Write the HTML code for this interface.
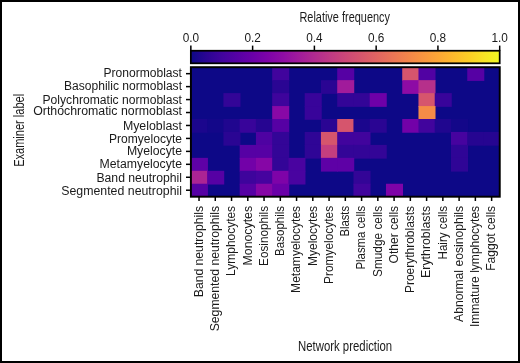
<!DOCTYPE html><html><head><meta charset="utf-8"><style>html,body{margin:0;padding:0;background:#fff;}svg{display:block;}</style></head><body>
<svg width="520" height="363" viewBox="0 0 520 363" style="will-change:transform">
<defs><linearGradient id="pl" x1="0" x2="1" y1="0" y2="0">
<stop offset="0.00" stop-color="#0d0887"/>
<stop offset="0.05" stop-color="#2a0593"/>
<stop offset="0.10" stop-color="#41049d"/>
<stop offset="0.15" stop-color="#5601a4"/>
<stop offset="0.20" stop-color="#6a00a8"/>
<stop offset="0.25" stop-color="#7e03a8"/>
<stop offset="0.30" stop-color="#8f0da4"/>
<stop offset="0.35" stop-color="#a11b9b"/>
<stop offset="0.40" stop-color="#b12a90"/>
<stop offset="0.45" stop-color="#bf3984"/>
<stop offset="0.50" stop-color="#cc4778"/>
<stop offset="0.55" stop-color="#d6556d"/>
<stop offset="0.60" stop-color="#e16462"/>
<stop offset="0.65" stop-color="#ea7457"/>
<stop offset="0.70" stop-color="#f2844b"/>
<stop offset="0.75" stop-color="#f89540"/>
<stop offset="0.80" stop-color="#fca636"/>
<stop offset="0.85" stop-color="#feba2c"/>
<stop offset="0.90" stop-color="#fcce25"/>
<stop offset="0.95" stop-color="#f7e425"/>
<stop offset="1.00" stop-color="#f0f921"/>
</linearGradient></defs>
<rect x="0" y="0" width="520" height="363" fill="#fff"/>
<rect x="190.90" y="67.20" width="308.84" height="129.50" fill="#0d0887"/>
<rect x="272.18" y="67.20" width="17.05" height="13.75" fill="#41049d"/>
<rect x="337.19" y="67.20" width="17.05" height="13.75" fill="#5601a4"/>
<rect x="402.22" y="67.20" width="17.05" height="13.75" fill="#d6556d"/>
<rect x="418.47" y="67.20" width="17.05" height="13.75" fill="#5102a3"/>
<rect x="467.24" y="67.20" width="17.05" height="13.75" fill="#5601a4"/>
<rect x="272.18" y="80.15" width="17.05" height="13.75" fill="#2a0593"/>
<rect x="320.94" y="80.15" width="17.05" height="13.75" fill="#2a0593"/>
<rect x="337.19" y="80.15" width="17.05" height="13.75" fill="#a11b9b"/>
<rect x="402.22" y="80.15" width="17.05" height="13.75" fill="#8d0ba5"/>
<rect x="418.47" y="80.15" width="17.05" height="13.75" fill="#b6308b"/>
<rect x="223.41" y="93.10" width="17.05" height="13.75" fill="#330597"/>
<rect x="272.18" y="93.10" width="17.05" height="13.75" fill="#3e049c"/>
<rect x="304.69" y="93.10" width="17.05" height="13.75" fill="#38049a"/>
<rect x="337.19" y="93.10" width="17.05" height="13.75" fill="#330597"/>
<rect x="353.45" y="93.10" width="17.05" height="13.75" fill="#330597"/>
<rect x="369.70" y="93.10" width="17.05" height="13.75" fill="#6e00a8"/>
<rect x="418.47" y="93.10" width="17.05" height="13.75" fill="#d6556d"/>
<rect x="434.73" y="93.10" width="17.05" height="13.75" fill="#38049a"/>
<rect x="272.18" y="106.05" width="17.05" height="13.75" fill="#8808a6"/>
<rect x="304.69" y="106.05" width="17.05" height="13.75" fill="#38049a"/>
<rect x="418.47" y="106.05" width="17.05" height="13.75" fill="#f58b47"/>
<rect x="190.90" y="119.00" width="17.05" height="13.75" fill="#1b068d"/>
<rect x="207.16" y="119.00" width="17.05" height="13.75" fill="#130789"/>
<rect x="223.41" y="119.00" width="17.05" height="13.75" fill="#20068f"/>
<rect x="239.67" y="119.00" width="17.05" height="13.75" fill="#38049a"/>
<rect x="255.92" y="119.00" width="17.05" height="13.75" fill="#260591"/>
<rect x="272.18" y="119.00" width="17.05" height="13.75" fill="#5601a4"/>
<rect x="320.94" y="119.00" width="17.05" height="13.75" fill="#2a0593"/>
<rect x="337.19" y="119.00" width="17.05" height="13.75" fill="#d6556d"/>
<rect x="353.45" y="119.00" width="17.05" height="13.75" fill="#1b068d"/>
<rect x="369.70" y="119.00" width="17.05" height="13.75" fill="#2a0593"/>
<rect x="402.22" y="119.00" width="17.05" height="13.75" fill="#7201a8"/>
<rect x="418.47" y="119.00" width="17.05" height="13.75" fill="#41049d"/>
<rect x="434.73" y="119.00" width="17.05" height="13.75" fill="#20068f"/>
<rect x="450.98" y="119.00" width="17.05" height="13.75" fill="#130789"/>
<rect x="223.41" y="131.95" width="17.05" height="13.75" fill="#2a0593"/>
<rect x="255.92" y="131.95" width="17.05" height="13.75" fill="#4e02a2"/>
<rect x="272.18" y="131.95" width="17.05" height="13.75" fill="#330597"/>
<rect x="304.69" y="131.95" width="17.05" height="13.75" fill="#2f0596"/>
<rect x="320.94" y="131.95" width="17.05" height="13.75" fill="#d6556d"/>
<rect x="337.19" y="131.95" width="17.05" height="13.75" fill="#41049d"/>
<rect x="353.45" y="131.95" width="17.05" height="13.75" fill="#41049d"/>
<rect x="450.98" y="131.95" width="17.05" height="13.75" fill="#46039f"/>
<rect x="467.24" y="131.95" width="17.05" height="13.75" fill="#260591"/>
<rect x="483.49" y="131.95" width="16.25" height="13.75" fill="#260591"/>
<rect x="239.67" y="144.90" width="17.05" height="13.75" fill="#5601a4"/>
<rect x="255.92" y="144.90" width="17.05" height="13.75" fill="#5601a4"/>
<rect x="272.18" y="144.90" width="17.05" height="13.75" fill="#330597"/>
<rect x="304.69" y="144.90" width="17.05" height="13.75" fill="#2f0596"/>
<rect x="320.94" y="144.90" width="17.05" height="13.75" fill="#c43e7f"/>
<rect x="337.19" y="144.90" width="17.05" height="13.75" fill="#330597"/>
<rect x="353.45" y="144.90" width="17.05" height="13.75" fill="#330597"/>
<rect x="369.70" y="144.90" width="17.05" height="13.75" fill="#330597"/>
<rect x="450.98" y="144.90" width="17.05" height="13.75" fill="#2f0596"/>
<rect x="190.90" y="157.85" width="17.05" height="13.75" fill="#5e01a6"/>
<rect x="239.67" y="157.85" width="17.05" height="13.75" fill="#7201a8"/>
<rect x="255.92" y="157.85" width="17.05" height="13.75" fill="#8606a6"/>
<rect x="272.18" y="157.85" width="17.05" height="13.75" fill="#330597"/>
<rect x="288.43" y="157.85" width="17.05" height="13.75" fill="#4903a0"/>
<rect x="320.94" y="157.85" width="17.05" height="13.75" fill="#5e01a6"/>
<rect x="337.19" y="157.85" width="17.05" height="13.75" fill="#5e01a6"/>
<rect x="450.98" y="157.85" width="17.05" height="13.75" fill="#2f0596"/>
<rect x="190.90" y="170.80" width="17.05" height="13.75" fill="#ab2494"/>
<rect x="207.16" y="170.80" width="17.05" height="13.75" fill="#5601a4"/>
<rect x="239.67" y="170.80" width="17.05" height="13.75" fill="#3e049c"/>
<rect x="255.92" y="170.80" width="17.05" height="13.75" fill="#46039f"/>
<rect x="272.18" y="170.80" width="17.05" height="13.75" fill="#7e03a8"/>
<rect x="288.43" y="170.80" width="17.05" height="13.75" fill="#4903a0"/>
<rect x="353.45" y="170.80" width="17.05" height="13.75" fill="#330597"/>
<rect x="190.90" y="183.75" width="17.05" height="12.95" fill="#5601a4"/>
<rect x="239.67" y="183.75" width="17.05" height="12.95" fill="#5601a4"/>
<rect x="255.92" y="183.75" width="17.05" height="12.95" fill="#8606a6"/>
<rect x="272.18" y="183.75" width="17.05" height="12.95" fill="#6a00a8"/>
<rect x="353.45" y="183.75" width="17.05" height="12.95" fill="#41049d"/>
<rect x="385.96" y="183.75" width="17.05" height="12.95" fill="#7e03a8"/>
<rect x="190.90" y="67.20" width="308.84" height="129.50" fill="none" stroke="#000" stroke-width="1.95"/>
<rect x="190.85" y="50.75" width="308.85" height="12.55" fill="url(#pl)" stroke="#000" stroke-width="1.75"/>
<line x1="190.85" y1="45.6" x2="190.85" y2="50.5" stroke="#000" stroke-width="1.5"/>
<text x="190.85" y="41.5" text-anchor="middle" font-size="12.3" fill="#1a1a1a" font-family="&apos;Liberation Sans&apos;, sans-serif" textLength="16.4" lengthAdjust="spacingAndGlyphs">0.0</text>
<line x1="252.62" y1="45.6" x2="252.62" y2="50.5" stroke="#000" stroke-width="1.5"/>
<text x="252.62" y="41.5" text-anchor="middle" font-size="12.3" fill="#1a1a1a" font-family="&apos;Liberation Sans&apos;, sans-serif" textLength="16.4" lengthAdjust="spacingAndGlyphs">0.2</text>
<line x1="314.39" y1="45.6" x2="314.39" y2="50.5" stroke="#000" stroke-width="1.5"/>
<text x="314.39" y="41.5" text-anchor="middle" font-size="12.3" fill="#1a1a1a" font-family="&apos;Liberation Sans&apos;, sans-serif" textLength="16.4" lengthAdjust="spacingAndGlyphs">0.4</text>
<line x1="376.16" y1="45.6" x2="376.16" y2="50.5" stroke="#000" stroke-width="1.5"/>
<text x="376.16" y="41.5" text-anchor="middle" font-size="12.3" fill="#1a1a1a" font-family="&apos;Liberation Sans&apos;, sans-serif" textLength="16.4" lengthAdjust="spacingAndGlyphs">0.6</text>
<line x1="437.93" y1="45.6" x2="437.93" y2="50.5" stroke="#000" stroke-width="1.5"/>
<text x="437.93" y="41.5" text-anchor="middle" font-size="12.3" fill="#1a1a1a" font-family="&apos;Liberation Sans&apos;, sans-serif" textLength="16.4" lengthAdjust="spacingAndGlyphs">0.8</text>
<line x1="499.70" y1="45.6" x2="499.70" y2="50.5" stroke="#000" stroke-width="1.5"/>
<text x="499.70" y="41.5" text-anchor="middle" font-size="12.3" fill="#1a1a1a" font-family="&apos;Liberation Sans&apos;, sans-serif" textLength="16.4" lengthAdjust="spacingAndGlyphs">1.0</text>
<text x="299.4" y="21.9" font-size="14.3" fill="#1a1a1a" font-family="&apos;Liberation Sans&apos;, sans-serif" textLength="90.6" lengthAdjust="spacingAndGlyphs">Relative frequency</text>
<line x1="186" y1="73.67" x2="191" y2="73.67" stroke="#000" stroke-width="1.5"/>
<text x="182" y="77.20" text-anchor="end" font-size="12.5" fill="#1a1a1a" font-family="&apos;Liberation Sans&apos;, sans-serif" textLength="78.6" lengthAdjust="spacingAndGlyphs">Pronormoblast</text>
<line x1="186" y1="86.62" x2="191" y2="86.62" stroke="#000" stroke-width="1.5"/>
<text x="182" y="89.80" text-anchor="end" font-size="12.5" fill="#1a1a1a" font-family="&apos;Liberation Sans&apos;, sans-serif" textLength="118.0" lengthAdjust="spacingAndGlyphs">Basophilic normoblast</text>
<line x1="186" y1="99.58" x2="191" y2="99.58" stroke="#000" stroke-width="1.5"/>
<text x="182" y="104.00" text-anchor="end" font-size="12.5" fill="#1a1a1a" font-family="&apos;Liberation Sans&apos;, sans-serif" textLength="139.5" lengthAdjust="spacingAndGlyphs">Polychromatic normoblast</text>
<line x1="186" y1="112.53" x2="191" y2="112.53" stroke="#000" stroke-width="1.5"/>
<text x="182" y="115.40" text-anchor="end" font-size="12.5" fill="#1a1a1a" font-family="&apos;Liberation Sans&apos;, sans-serif" textLength="148.8" lengthAdjust="spacingAndGlyphs">Orthochromatic normoblast</text>
<line x1="186" y1="125.47" x2="191" y2="125.47" stroke="#000" stroke-width="1.5"/>
<text x="182" y="130.00" text-anchor="end" font-size="12.5" fill="#1a1a1a" font-family="&apos;Liberation Sans&apos;, sans-serif" textLength="59.1" lengthAdjust="spacingAndGlyphs">Myeloblast</text>
<line x1="186" y1="138.43" x2="191" y2="138.43" stroke="#000" stroke-width="1.5"/>
<text x="182" y="142.50" text-anchor="end" font-size="12.5" fill="#1a1a1a" font-family="&apos;Liberation Sans&apos;, sans-serif" textLength="73.0" lengthAdjust="spacingAndGlyphs">Promyelocyte</text>
<line x1="186" y1="151.38" x2="191" y2="151.38" stroke="#000" stroke-width="1.5"/>
<text x="182" y="155.20" text-anchor="end" font-size="12.5" fill="#1a1a1a" font-family="&apos;Liberation Sans&apos;, sans-serif" textLength="55.1" lengthAdjust="spacingAndGlyphs">Myelocyte</text>
<line x1="186" y1="164.32" x2="191" y2="164.32" stroke="#000" stroke-width="1.5"/>
<text x="182" y="168.40" text-anchor="end" font-size="12.5" fill="#1a1a1a" font-family="&apos;Liberation Sans&apos;, sans-serif" textLength="82.4" lengthAdjust="spacingAndGlyphs">Metamyelocyte</text>
<line x1="186" y1="177.27" x2="191" y2="177.27" stroke="#000" stroke-width="1.5"/>
<text x="182" y="181.60" text-anchor="end" font-size="12.5" fill="#1a1a1a" font-family="&apos;Liberation Sans&apos;, sans-serif" textLength="85.6" lengthAdjust="spacingAndGlyphs">Band neutrophil</text>
<line x1="186" y1="190.22" x2="191" y2="190.22" stroke="#000" stroke-width="1.5"/>
<text x="182" y="194.60" text-anchor="end" font-size="12.5" fill="#1a1a1a" font-family="&apos;Liberation Sans&apos;, sans-serif" textLength="120.8" lengthAdjust="spacingAndGlyphs">Segmented neutrophil</text>
<line x1="199.03" y1="196" x2="199.03" y2="201" stroke="#000" stroke-width="1.5"/>
<text transform="translate(202.83,205.9) rotate(-90)" x="0" y="0" text-anchor="end" font-size="12.5" fill="#1a1a1a" font-family="&apos;Liberation Sans&apos;, sans-serif" textLength="91.3" lengthAdjust="spacingAndGlyphs">Band neutrophils</text>
<line x1="215.28" y1="196" x2="215.28" y2="201" stroke="#000" stroke-width="1.5"/>
<text transform="translate(219.08,205.9) rotate(-90)" x="0" y="0" text-anchor="end" font-size="12.5" fill="#1a1a1a" font-family="&apos;Liberation Sans&apos;, sans-serif" textLength="125.4" lengthAdjust="spacingAndGlyphs">Segmented neutrophils</text>
<line x1="231.54" y1="196" x2="231.54" y2="201" stroke="#000" stroke-width="1.5"/>
<text transform="translate(235.34,205.9) rotate(-90)" x="0" y="0" text-anchor="end" font-size="12.5" fill="#1a1a1a" font-family="&apos;Liberation Sans&apos;, sans-serif" textLength="70.0" lengthAdjust="spacingAndGlyphs">Lymphocytes</text>
<line x1="247.79" y1="196" x2="247.79" y2="201" stroke="#000" stroke-width="1.5"/>
<text transform="translate(251.59,205.9) rotate(-90)" x="0" y="0" text-anchor="end" font-size="12.5" fill="#1a1a1a" font-family="&apos;Liberation Sans&apos;, sans-serif" textLength="59.6" lengthAdjust="spacingAndGlyphs">Monocytes</text>
<line x1="264.05" y1="196" x2="264.05" y2="201" stroke="#000" stroke-width="1.5"/>
<text transform="translate(267.85,205.9) rotate(-90)" x="0" y="0" text-anchor="end" font-size="12.5" fill="#1a1a1a" font-family="&apos;Liberation Sans&apos;, sans-serif" textLength="60.0" lengthAdjust="spacingAndGlyphs">Eosinophils</text>
<line x1="280.30" y1="196" x2="280.30" y2="201" stroke="#000" stroke-width="1.5"/>
<text transform="translate(284.10,205.9) rotate(-90)" x="0" y="0" text-anchor="end" font-size="12.5" fill="#1a1a1a" font-family="&apos;Liberation Sans&apos;, sans-serif" textLength="50.0" lengthAdjust="spacingAndGlyphs">Basophils</text>
<line x1="296.56" y1="196" x2="296.56" y2="201" stroke="#000" stroke-width="1.5"/>
<text transform="translate(300.36,205.9) rotate(-90)" x="0" y="0" text-anchor="end" font-size="12.5" fill="#1a1a1a" font-family="&apos;Liberation Sans&apos;, sans-serif" textLength="87.0" lengthAdjust="spacingAndGlyphs">Metamyelocytes</text>
<line x1="312.81" y1="196" x2="312.81" y2="201" stroke="#000" stroke-width="1.5"/>
<text transform="translate(316.61,205.9) rotate(-90)" x="0" y="0" text-anchor="end" font-size="12.5" fill="#1a1a1a" font-family="&apos;Liberation Sans&apos;, sans-serif" textLength="60.2" lengthAdjust="spacingAndGlyphs">Myelocytes</text>
<line x1="329.07" y1="196" x2="329.07" y2="201" stroke="#000" stroke-width="1.5"/>
<text transform="translate(332.87,205.9) rotate(-90)" x="0" y="0" text-anchor="end" font-size="12.5" fill="#1a1a1a" font-family="&apos;Liberation Sans&apos;, sans-serif" textLength="78.0" lengthAdjust="spacingAndGlyphs">Promyelocytes</text>
<line x1="345.32" y1="196" x2="345.32" y2="201" stroke="#000" stroke-width="1.5"/>
<text transform="translate(349.12,205.9) rotate(-90)" x="0" y="0" text-anchor="end" font-size="12.5" fill="#1a1a1a" font-family="&apos;Liberation Sans&apos;, sans-serif" textLength="30.7" lengthAdjust="spacingAndGlyphs">Blasts</text>
<line x1="361.58" y1="196" x2="361.58" y2="201" stroke="#000" stroke-width="1.5"/>
<text transform="translate(365.38,205.9) rotate(-90)" x="0" y="0" text-anchor="end" font-size="12.5" fill="#1a1a1a" font-family="&apos;Liberation Sans&apos;, sans-serif" textLength="63.6" lengthAdjust="spacingAndGlyphs">Plasma cells</text>
<line x1="377.83" y1="196" x2="377.83" y2="201" stroke="#000" stroke-width="1.5"/>
<text transform="translate(381.63,205.9) rotate(-90)" x="0" y="0" text-anchor="end" font-size="12.5" fill="#1a1a1a" font-family="&apos;Liberation Sans&apos;, sans-serif" textLength="71.1" lengthAdjust="spacingAndGlyphs">Smudge cells</text>
<line x1="394.09" y1="196" x2="394.09" y2="201" stroke="#000" stroke-width="1.5"/>
<text transform="translate(397.89,205.9) rotate(-90)" x="0" y="0" text-anchor="end" font-size="12.5" fill="#1a1a1a" font-family="&apos;Liberation Sans&apos;, sans-serif" textLength="57.6" lengthAdjust="spacingAndGlyphs">Other cells</text>
<line x1="410.34" y1="196" x2="410.34" y2="201" stroke="#000" stroke-width="1.5"/>
<text transform="translate(414.14,205.9) rotate(-90)" x="0" y="0" text-anchor="end" font-size="12.5" fill="#1a1a1a" font-family="&apos;Liberation Sans&apos;, sans-serif" textLength="87.1" lengthAdjust="spacingAndGlyphs">Proerythroblasts</text>
<line x1="426.60" y1="196" x2="426.60" y2="201" stroke="#000" stroke-width="1.5"/>
<text transform="translate(430.40,205.9) rotate(-90)" x="0" y="0" text-anchor="end" font-size="12.5" fill="#1a1a1a" font-family="&apos;Liberation Sans&apos;, sans-serif" textLength="72.0" lengthAdjust="spacingAndGlyphs">Erythroblasts</text>
<line x1="442.85" y1="196" x2="442.85" y2="201" stroke="#000" stroke-width="1.5"/>
<text transform="translate(446.65,205.9) rotate(-90)" x="0" y="0" text-anchor="end" font-size="12.5" fill="#1a1a1a" font-family="&apos;Liberation Sans&apos;, sans-serif" textLength="53.6" lengthAdjust="spacingAndGlyphs">Hairy cells</text>
<line x1="459.11" y1="196" x2="459.11" y2="201" stroke="#000" stroke-width="1.5"/>
<text transform="translate(462.91,205.9) rotate(-90)" x="0" y="0" text-anchor="end" font-size="12.5" fill="#1a1a1a" font-family="&apos;Liberation Sans&apos;, sans-serif" textLength="116.0" lengthAdjust="spacingAndGlyphs">Abnormal eosinophils</text>
<line x1="475.36" y1="196" x2="475.36" y2="201" stroke="#000" stroke-width="1.5"/>
<text transform="translate(479.16,205.9) rotate(-90)" x="0" y="0" text-anchor="end" font-size="12.5" fill="#1a1a1a" font-family="&apos;Liberation Sans&apos;, sans-serif" textLength="121.2" lengthAdjust="spacingAndGlyphs">Immature lymphocytes</text>
<line x1="491.62" y1="196" x2="491.62" y2="201" stroke="#000" stroke-width="1.5"/>
<text transform="translate(495.42,205.9) rotate(-90)" x="0" y="0" text-anchor="end" font-size="12.5" fill="#1a1a1a" font-family="&apos;Liberation Sans&apos;, sans-serif" textLength="64.9" lengthAdjust="spacingAndGlyphs">Faggot cells</text>
<text transform="translate(23.7,166.8) rotate(-90)" font-size="14" fill="#1a1a1a" font-family="&apos;Liberation Sans&apos;, sans-serif" textLength="72.9" lengthAdjust="spacingAndGlyphs">Examiner label</text>
<text x="298.0" y="350.8" font-size="14.3" fill="#1a1a1a" font-family="&apos;Liberation Sans&apos;, sans-serif" textLength="94.2" lengthAdjust="spacingAndGlyphs">Network prediction</text>
<rect x="1" y="1" width="518" height="361" fill="none" stroke="#000" stroke-width="2"/>
</svg></body></html>
